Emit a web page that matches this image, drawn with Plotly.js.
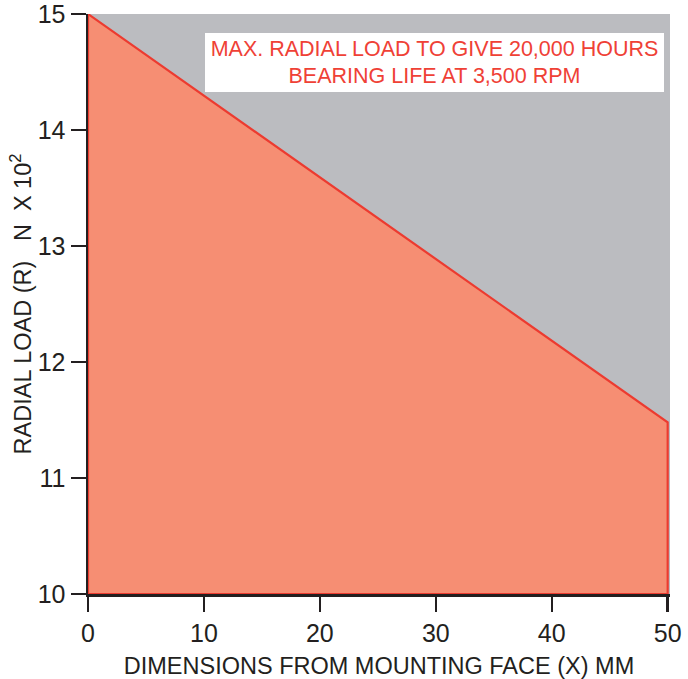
<!DOCTYPE html>
<html>
<head>
<meta charset="utf-8">
<script src="https://cdn.plot.ly/plotly-3.0.1.min.js"></script>
<style>html,body{margin:0;padding:0;background:#fff;}#chart{width:688px;height:679px;}</style>
</head>
<body>
<div id="chart"></div>
<script>
// Data
const distanceMM = [0, 50];          // dimension from mounting face (X) mm
const radialLoad = [15, 11.48];      // radial load, N x 10^2
const xTicks = [0, 10, 20, 30, 40, 50];
const yTicks = [10, 11, 12, 13, 14, 15];
const noteText = "MAX. RADIAL LOAD TO GIVE 20,000 HOURS<br>BEARING LIFE AT 3,500 RPM";

const yMin = 10;
// closed polygon of the permissible-load area
const polyX = [distanceMM[0], distanceMM[0], distanceMM[1], distanceMM[1], distanceMM[0]];
const polyY = [yMin, radialLoad[0], radialLoad[1], yMin, yMin];

const dark = '#231f20';
const trace = {
  x: polyX, y: polyY, type: 'scatter', mode: 'lines',
  fill: 'toself', fillcolor: '#f68e73',
  line: {color: '#ec3b30', width: 2.2},
  hoverinfo: 'skip', showlegend: false
};

const layout = {
  width: 688, height: 679,
  margin: {l: 88, r: 17.7, t: 14, b: 85},
  paper_bgcolor: '#ffffff',
  plot_bgcolor: '#bbbcc0',
  font: {family: 'Liberation Sans, Arial, sans-serif', color: dark},
  xaxis: {
    range: [0, 50.2], tickvals: xTicks, ticktext: xTicks.map(String),
    ticks: 'outside', ticklen: 15, tickwidth: 2.5, tickcolor: dark,
    showline: true, linecolor: dark, linewidth: 2.5,
    showgrid: false, zeroline: false, ticklabeloverflow: 'allow',
    tickfont: {size: 25, color: dark},
    title: {text: 'DIMENSIONS FROM MOUNTING FACE (X) MM', font: {size: 23.5, color: dark}, standoff: 14},
    automargin: false, fixedrange: true
  },
  yaxis: {
    range: [10, 15], tickvals: yTicks, ticktext: yTicks.map(String),
    ticks: 'outside', ticklen: 15, tickwidth: 2.5, tickcolor: dark,
    showline: true, linecolor: dark, linewidth: 2.5,
    showgrid: false, zeroline: false, ticklabeloverflow: 'allow',
    tickfont: {size: 25, color: dark},
    title: {text: 'RADIAL LOAD (R)   N  X 10<sup>2</sup>', font: {size: 23.5, color: dark}, standoff: 0},
    automargin: false, fixedrange: true
  },
  annotations: [{
    xref: 'paper', yref: 'paper', x: 0.596, y: 0.916,
    xanchor: 'center', yanchor: 'middle',
    text: noteText, showarrow: false,
    font: {size: 21.5, color: '#ef4136'},
    bgcolor: '#ffffff', borderpad: 0, borderwidth: 0,
    width: 459, height: 59, align: 'center'
  }]
};

Plotly.newPlot('chart', [trace], layout, {displayModeBar: false, staticPlot: true});
</script>
</body>
</html>
